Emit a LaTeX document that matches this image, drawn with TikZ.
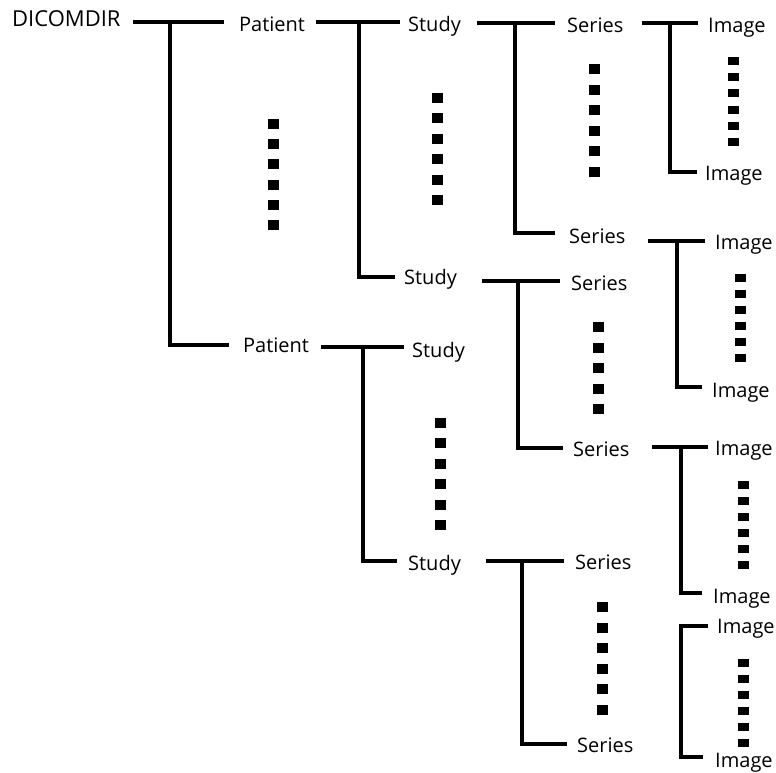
\documentclass[tikz,border=0pt]{standalone}
\usepackage{fontspec}
\setmainfont{Open Sans}
\begin{document}
\begin{tikzpicture}[x=1pt,y=-1pt,
  lbl/.style={anchor=base west,inner sep=0pt,font=\fontsize{20}{24}\selectfont},
  tree/.style={line width=3.3pt,line join=miter,line cap=butt},
  bigdot/.style={fill=black},
]
\useasboundingbox (0,0) rectangle (776,772);
% labels
\node[lbl,font=\fontsize{22}{26}\selectfont] (dicom) at (12,26.5) {DICOMDIR};
\node[lbl] (pat1) at (239,31) {Patient};
\node[lbl] (st1) at (408,31) {Study};
\node[lbl] (se1) at (567,32) {Series};
\node[lbl] (im1) at (708,32) {Image};
\node[lbl] (im2) at (705,180) {Image};
\node[lbl] (se2) at (569,243) {Series};
\node[lbl] (im3) at (715,249) {Image};
\node[lbl] (im4) at (712,397) {Image};
\node[lbl] (st2) at (404,284) {Study};
\node[lbl] (se3) at (571,290) {Series};
\node[lbl] (se4) at (573,456) {Series};
\node[lbl] (im5) at (715,455) {Image};
\node[lbl] (im6) at (713,603) {Image};
\node[lbl] (pat2) at (243,352) {Patient};
\node[lbl] (st3) at (412,357) {Study};
\node[lbl] (st4) at (408,570) {Study};
\node[lbl] (se5) at (575,569) {Series};
\node[lbl] (se6) at (577,752) {Series};
\node[lbl] (im7) at (717,633) {Image};
\node[lbl] (im8) at (715,767) {Image};
% connector coordinates
\coordinate (aS) at (133,22); \coordinate (aJ) at (170,22); \coordinate (aE1) at (224,22); \coordinate (aE2) at (229,345);
\coordinate (bS) at (316,22); \coordinate (bJ) at (359,22); \coordinate (bE1) at (400,22); \coordinate (bE2) at (395,277);
\coordinate (cS) at (477,23); \coordinate (cJ) at (515,23); \coordinate (cE1) at (555,23); \coordinate (cE2) at (555,233);
\coordinate (dS) at (642,23); \coordinate (dJ) at (670,23); \coordinate (dE1) at (698,23); \coordinate (dE2) at (697,172);
\coordinate (eS) at (648,241); \coordinate (eJ) at (677,241); \coordinate (eE1) at (705,241); \coordinate (eE2) at (702,387);
\coordinate (fS) at (482,281); \coordinate (fJ) at (518,281); \coordinate (fE1) at (560,281); \coordinate (fE2) at (563,448);
\coordinate (gS) at (652,447); \coordinate (gJ) at (681,447); \coordinate (gE1) at (708,447); \coordinate (gE2) at (702,593);
\coordinate (hS) at (321,347); \coordinate (hJ) at (363,347); \coordinate (hE1) at (404,347); \coordinate (hE2) at (397,561);
\coordinate (iS) at (486,561); \coordinate (iJ) at (522,561); \coordinate (iE1) at (564,561); \coordinate (iE2) at (567,744);
\coordinate (kT) at (708,626); \coordinate (kJ) at (681,626); \coordinate (kB) at (703,757);
\foreach \p in {a,b,c,d,e,f,g,h,i}{
  \draw[tree] (\p S) -- (\p E1);
  \draw[tree] (\p J) |- (\p E2);
}
\draw[tree] (kT) -- (kJ) |- (kB);
% ellipsis dots: x, first centre, spacing, count, height
\foreach \x/\y/\s/\n/\h in {273/124/20.2/6/10, 437/98/20.4/6/10, 594/69/20.6/6/10,
  598/327/20.5/5/10, 440/423/20.4/6/10, 602/607/20.6/6/10,
  733/61/16.2/6/8, 740/278/16/6/8, 743/485/16/6/8, 743/663/16/6/8}{
  \foreach \k in {1,...,\n}{
    \fill[bigdot] ({\x-5.5},{\y+(\k-1)*\s-\h/2}) rectangle ({\x+5.5},{\y+(\k-1)*\s+\h/2});
  }
}
\end{tikzpicture}
\end{document}
